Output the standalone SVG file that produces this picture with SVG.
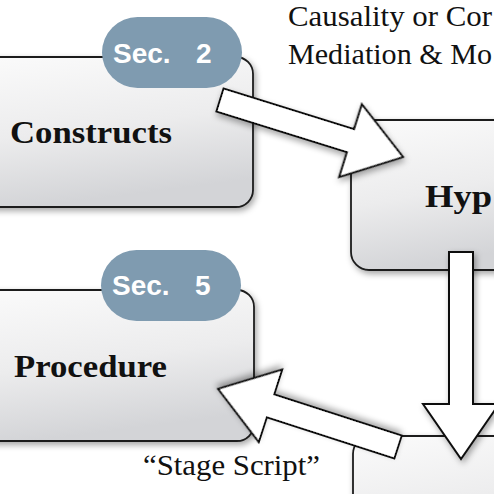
<svg xmlns="http://www.w3.org/2000/svg" width="494" height="494" viewBox="0 0 494 494">
<defs>
<linearGradient id="boxg" x1="0" y1="0" x2="0.25" y2="1">
<stop offset="0" stop-color="#fbfbfb"/>
<stop offset="0.55" stop-color="#ececed"/>
<stop offset="1" stop-color="#d3d4d7"/>
</linearGradient>
<filter id="sh" x="-20%" y="-20%" width="140%" height="150%">
<feDropShadow dx="2" dy="3" stdDeviation="3" flood-color="#000" flood-opacity="0.35"/>
</filter>
<style>
.box{fill:url(#boxg);stroke:#1c1c1c;stroke-width:1.8;filter:url(#sh)}
.pill{fill:#7f9bb0}
.pt{font-family:"Liberation Sans",Arial,sans-serif;font-weight:bold;font-size:28px;fill:#ffffff}
.lbl{font-family:"Liberation Serif","Times New Roman",serif;font-weight:bold;font-size:32px;fill:#111}
.cap{font-family:"Liberation Serif","Times New Roman",serif;font-size:29px;fill:#111}
.arr{fill:#ffffff;stroke:#111;stroke-width:2;stroke-linejoin:miter;filter:url(#sh)}
</style>
</defs>
<rect width="494" height="494" fill="#ffffff"/>
<g id="constructs">
<rect class="box" x="-40" y="57" width="293" height="150" rx="17"/>
<rect class="pill" x="102" y="17" width="140" height="71" rx="35.5"/>
<text class="pt" x="113" y="63">Sec.</text>
<text class="pt" x="196" y="63">2</text>
<text class="lbl" x="10" y="143" textLength="162" lengthAdjust="spacingAndGlyphs">Constructs</text>
</g>
<g id="hypothesis">
<rect class="box" x="351" y="120" width="200" height="150" rx="18"/>
<text class="lbl" x="425" y="207" textLength="67" lengthAdjust="spacingAndGlyphs">Hyp</text>
</g>
<g id="procedure">
<rect class="box" x="-40" y="290" width="294" height="151" rx="17"/>
<rect class="pill" x="101" y="250" width="140" height="71" rx="35.5"/>
<text class="pt" x="112" y="295">Sec.</text>
<text class="pt" x="195" y="295">5</text>
<text class="lbl" x="14" y="377" textLength="153" lengthAdjust="spacingAndGlyphs">Procedure</text>
</g>
<g id="bottom-right">
<rect class="box" x="353" y="436" width="200" height="150" rx="18"/>
</g>
<g id="labels">
<text class="cap" x="288" y="26" textLength="204" lengthAdjust="spacingAndGlyphs">Causality or Cor</text>
<text class="cap" x="288" y="64" textLength="204" lengthAdjust="spacingAndGlyphs">Mediation &amp; Mo</text>
<text class="cap" x="143" y="475" textLength="177" lengthAdjust="spacingAndGlyphs">“Stage Script”</text>
</g>
<g id="connectors">
<polygon class="arr" transform="translate(220,100) rotate(17.3)" points="0,-12 136.7,-12 136.7,-38 191.7,0 136.7,38 136.7,12 0,12"/>
<polygon class="arr" points="449,252 473,252 473,404 499,404 461,459 423,404 449,404"/>
<polygon class="arr" transform="translate(398,447) rotate(197.9)" points="0,-12 134,-12 134,-38 189,0 134,38 134,12 0,12"/>
</g>
</svg>
